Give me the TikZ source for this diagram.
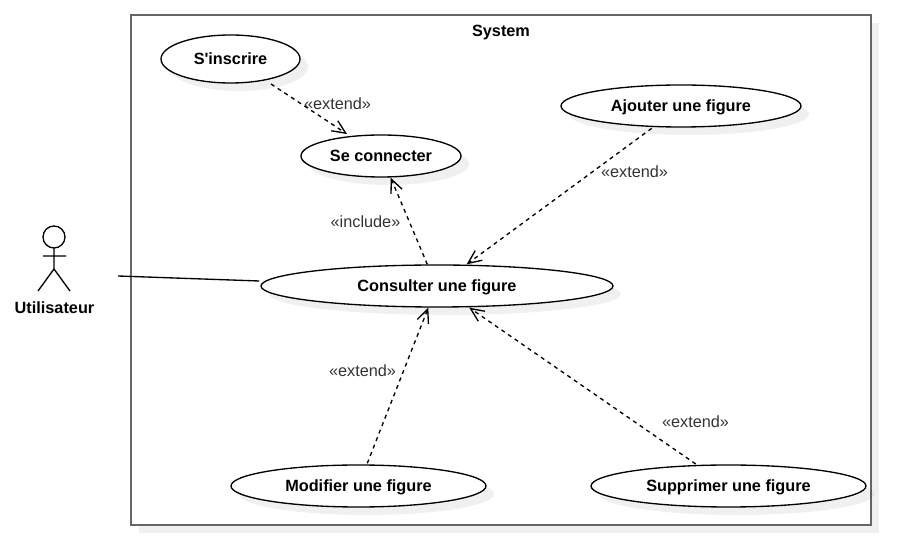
\documentclass[tikz,border=0pt]{standalone}
\usepackage{fontspec}
\newfontfamily\diagFont{Liberation Sans}
\usetikzlibrary{shadows,arrows.meta,shapes.geometric}
\pgfdeclarelayer{background}
\pgfsetlayers{background,main}
\definecolor{frameGray}{HTML}{666666}
\definecolor{labelGray}{HTML}{333333}
\newcommand{\diagSize}{\diagFont\fontsize{12.2}{14}\selectfont}
\tikzstyle{softShadow}=[drop shadow={shadow xshift=6pt, shadow yshift=-6pt,
	fill=black, opacity=.06}]
\tikzstyle{useCase}=[draw, ellipse, fill=white, line width=1pt, inner sep=0pt,
	font=\diagSize\bfseries, text height=9.4pt, text depth=1pt, softShadow]
\tikzstyle{frameBox}=[draw=frameGray, fill=white, line width=1.5pt, inner sep=0pt,
	softShadow]
\tikzstyle{texto}=[text=labelGray, inner sep=0pt, font=\diagSize,
	text height=9.4pt, text depth=1pt]
\tikzstyle{titre}=[font=\diagSize\bfseries, inner sep=0pt,
	text height=9.4pt, text depth=1pt]
\tikzstyle{line}=[draw, line width=1pt]
\tikzstyle{dep}=[line, dashed, dash pattern=on 3pt off 3pt,
	-{Straight Barb[length=10pt,width=9pt]}]
\newcommand{\useCaseNode}[4]{node (p#1) [useCase, minimum width=#2*0.75pt,
	minimum height=#3*0.75pt] {#4}}

\begin{document}
\begin{tikzpicture}[x=0.75pt,y=-0.75pt]
	\useasboundingbox (0,0) rectangle (911,548);

	% System frame
	\begin{pgfonlayer}{background}
		\path (501,270) node (sys) [frameBox, minimum width=740*0.75pt, minimum height=510*0.75pt] {};
	\end{pgfonlayer}
	\path (sys.north)+(0,16.6) node (sysTitle) [titre] {System};

	% Use cases
	\path (230.5,59) \useCaseNode{1}{139}{48}{S'inscrire};
	\path (p1.center)+(150.5,97) \useCaseNode{2}{160}{42}{Se connecter};
	\path (p2.center)+(300,-50) \useCaseNode{3}{240}{42}{Ajouter une figure};
	\path (p2.center)+(56,130) \useCaseNode{4}{352}{42}{Consulter une figure};
	\path (p4.center)+(-78.5,200) \useCaseNode{5}{255}{42}{Modifier une figure};
	\path (p4.center)+(291.5,200) \useCaseNode{6}{275}{42}{Supprimer une figure};

	% Actor
	\path (54.5,308.3) node (actor) [titre] {Utilisateur};
	\draw [line width=1pt] (54,237) circle (11);
	\draw [line width=1pt] (54,248) -- (54,269) (43,256) -- (66,256)
		(38,291) -- (54,269) -- (70,291);
	\coordinate (actorEnd) at (118,276);

	% Draw arrows between elements
	\path [line] (actorEnd) -- ([shift={(-1,-5)}]p4.west);
	\path [dep] ([shift={(40.5,25)}]p1.center) -- ([shift={(-34,-22)}]p2.center);
	\path [dep] ([shift={(-9.7,-21.7)}]p4.center) -- ([shift={(9.7,21.7)}]p2.center);
	\path [dep] ([shift={(-29.3,22.3)}]p3.center) -- ([shift={(29.7,-21.7)}]p4.center);
	\path [dep] ([shift={(8.8,-22.7)}]p5.center) -- ([shift={(-8.7,21.7)}]p4.center);
	\path [dep] ([shift={(-32.8,-22)}]p6.center) -- ([shift={(32.3,21.7)}]p4.center);

	% Labels
	\path (p1.center)+(107,45.3) node (l1) [texto] {«extend»};
	\path (p2.center)+(-15.5,66.3) node (l2) [texto] {«include»};
	\path (p3.center)+(-46.5,66.3) node (l3) [texto] {«extend»};
	\path (p5.center)+(4,-114.7) node (l4) [texto] {«extend»};
	\path (p6.center)+(-33,-63.7) node (l5) [texto] {«extend»};
\end{tikzpicture}
\end{document}
